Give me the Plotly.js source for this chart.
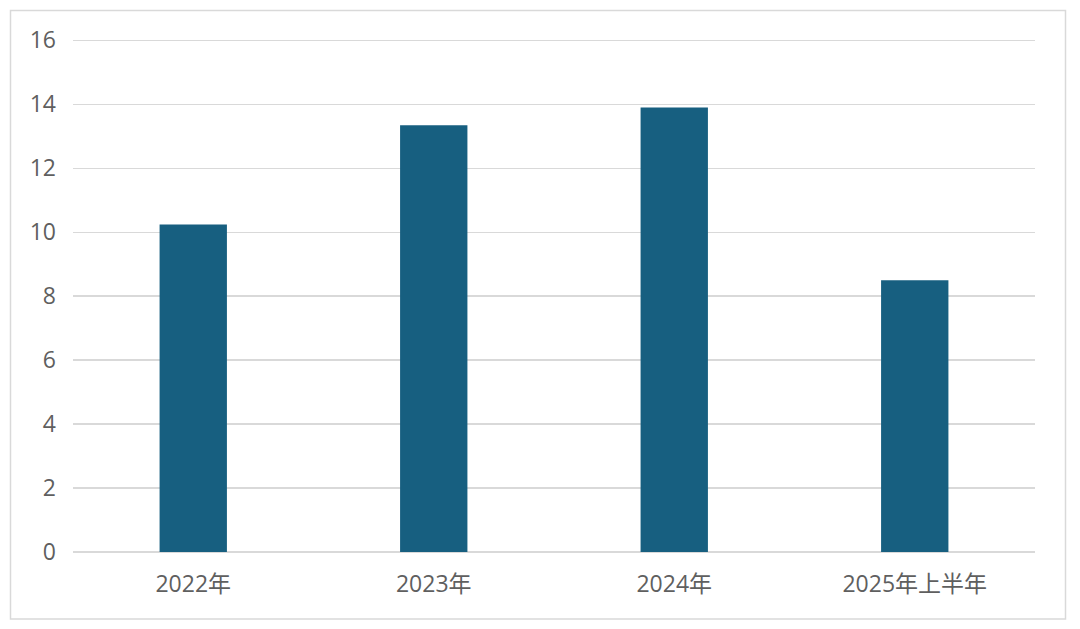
<!DOCTYPE html>
<html>
<head>
<meta charset="utf-8">
<script src="https://cdn.plot.ly/plotly-3.0.1.min.js"></script>
<style>html,body{margin:0;padding:0;background:#fff;}#chart{width:1080px;height:629px;}</style>
</head>
<body>
<div id="chart"></div>
<script>
const categories = ["2022年", "2023年", "2024年", "2025年上半年"];
const values = [10.24, 13.34, 13.9, 8.5];
const yTicks = [0, 2, 4, 6, 8, 10, 12, 14, 16];

const W = 1080, H = 629;
const m = {l: 73, r: 45, t: 39, b: 77};
const pw = W - m.l - m.r, ph = H - m.t - m.b;
const px = x => (x - m.l) / pw;
const py = y => (H - m.b - y) / ph;

const trace = {
  type: "bar",
  x: categories,
  y: values,
  marker: {color: "#175f80"},
  hoverinfo: "x+y"
};

const font = {family: "'Open Sans', 'Noto Sans CJK SC', sans-serif", size: 23, color: "#5f5f5f"};

const layout = {
  width: W, height: H,
  margin: m,
  paper_bgcolor: "#ffffff",
  plot_bgcolor: "#ffffff",
  showlegend: false,
  bargap: 0.72,
  font: font,
  xaxis: {
    type: "category",
    tickfont: font,
    showgrid: false,
    showline: false,
    ticks: "",
    ticklabelstandoff: 16,
    fixedrange: true
  },
  yaxis: {
    range: [0, 16.04],
    tickvals: yTicks,
    ticktext: yTicks.map(String),
    tickfont: font,
    showgrid: true,
    gridcolor: "#d9d9d9",
    gridwidth: 1.3,
    zeroline: true,
    zerolinecolor: "#d9d9d9",
    zerolinewidth: 1.3,
    showline: false,
    ticks: "",
    ticklabelstandoff: 16,
    fixedrange: true
  },
  shapes: [{
    type: "rect",
    xref: "paper", yref: "paper",
    x0: px(10.5), x1: px(1065.5),
    y0: py(619), y1: py(10.5),
    line: {color: "#d9d9d9", width: 1.5},
    fillcolor: "rgba(0,0,0,0)",
    layer: "below"
  }]
};

Plotly.newPlot("chart", [trace], layout, {displayModeBar: false, staticPlot: true});
</script>
</body>
</html>
